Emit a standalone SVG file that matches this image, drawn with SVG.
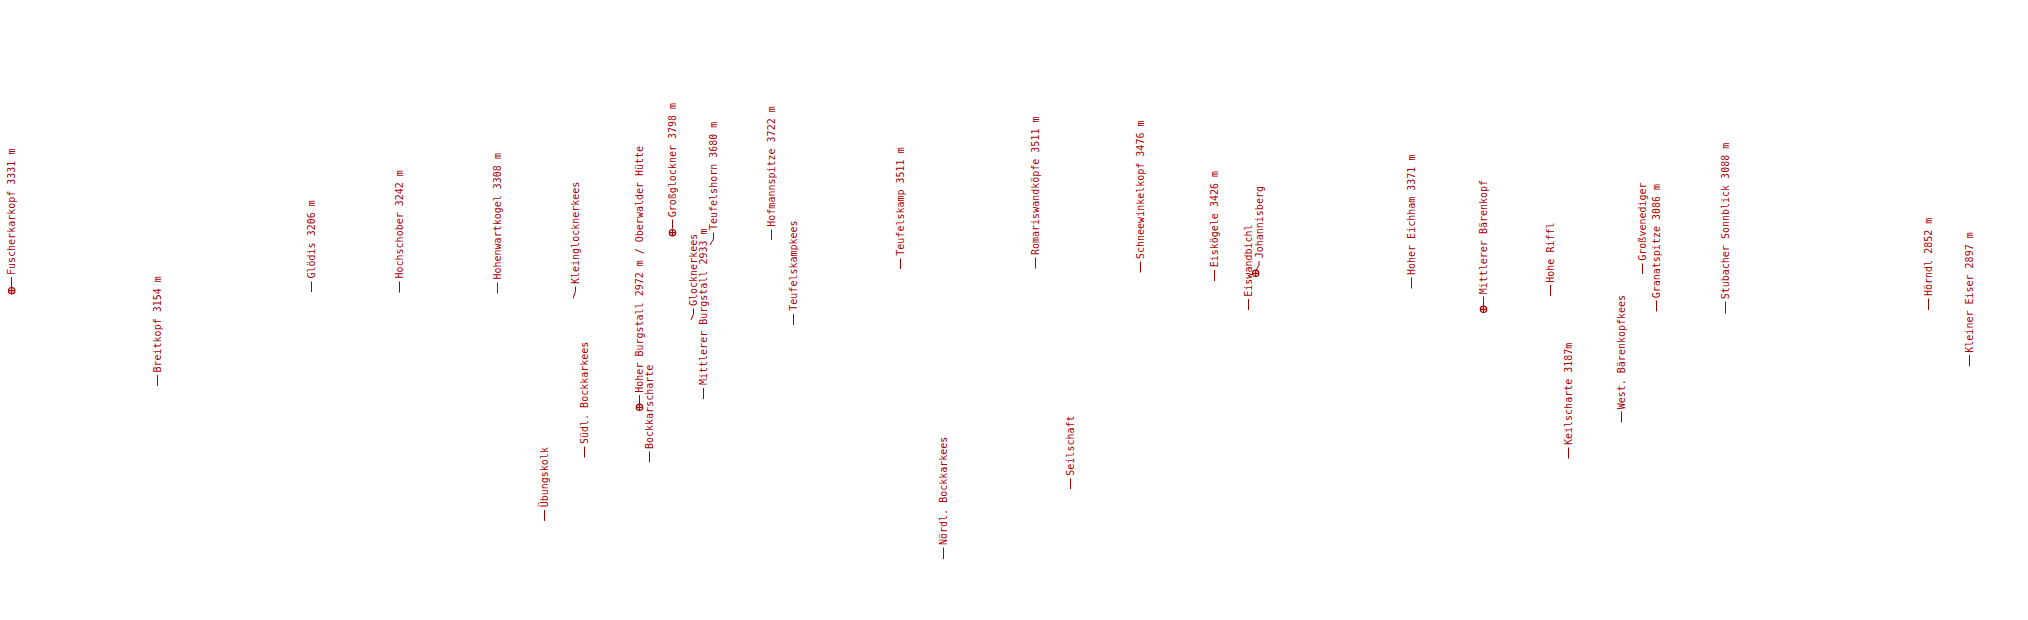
<svg xmlns="http://www.w3.org/2000/svg" xmlns:xlink="http://www.w3.org/1999/xlink" width="2028" height="620" viewBox="0 0 2028 620">
<style>
.lbl{font-family:"DejaVu Sans Mono","Liberation Mono",monospace;font-size:10px;fill:#a50000}
.ld{stroke:#a50000;stroke-width:1;fill:none}
.mk{stroke:#a50000;stroke-width:1.2;fill:none}
</style>
<defs>
<g id="marker"><circle class="mk" cx="0" cy="0" r="3.2"/><path class="mk" d="M-3.2 0H3.2M0 -3.2V3.2"/></g>
</defs>
<rect width="2028" height="620" fill="#ffffff"/>
<g id="connectors">
<line class="ld" x1="11.5" y1="287" x2="11.5" y2="277"/>
<line class="ld" x1="157.5" y1="386" x2="157.5" y2="375"/>
<line class="ld" x1="311.5" y1="292" x2="311.5" y2="281.5"/>
<line class="ld" x1="399.5" y1="292.5" x2="399.5" y2="281.5"/>
<line class="ld" x1="497.5" y1="293.5" x2="497.5" y2="282.5"/>
<polyline class="ld" points="573,298.5 575.5,291 575.5,286.5"/>
<line class="ld" x1="639.5" y1="404" x2="639.5" y2="395"/>
<line class="ld" x1="649.5" y1="462.5" x2="649.5" y2="451.5"/>
<line class="ld" x1="584.5" y1="457.5" x2="584.5" y2="446.5"/>
<line class="ld" x1="544.5" y1="521" x2="544.5" y2="510"/>
<line class="ld" x1="672.5" y1="228.5" x2="672.5" y2="219.5"/>
<polyline class="ld" points="691,320 693.5,314 693.5,308.5"/>
<line class="ld" x1="703.5" y1="399" x2="703.5" y2="388"/>
<polyline class="ld" points="710,245 713.5,239 713.5,232.5"/>
<line class="ld" x1="771.5" y1="240" x2="771.5" y2="229.5"/>
<line class="ld" x1="793.5" y1="325" x2="793.5" y2="314"/>
<line class="ld" x1="900.5" y1="269" x2="900.5" y2="258.5"/>
<line class="ld" x1="943.5" y1="559" x2="943.5" y2="547.5"/>
<line class="ld" x1="1035.5" y1="268.5" x2="1035.5" y2="257.5"/>
<line class="ld" x1="1140.5" y1="272.5" x2="1140.5" y2="261.5"/>
<line class="ld" x1="1214.5" y1="281" x2="1214.5" y2="270"/>
<line class="ld" x1="1248.5" y1="310" x2="1248.5" y2="299"/>
<polyline class="ld" points="1256,270.5 1259,265 1259,261"/>
<line class="ld" x1="1070.5" y1="489" x2="1070.5" y2="478.5"/>
<line class="ld" x1="1411.5" y1="288.5" x2="1411.5" y2="277.5"/>
<line class="ld" x1="1483.5" y1="305.5" x2="1483.5" y2="296.5"/>
<line class="ld" x1="1550.5" y1="296" x2="1550.5" y2="285"/>
<line class="ld" x1="1568.5" y1="458.5" x2="1568.5" y2="447.5"/>
<line class="ld" x1="1621.5" y1="422.5" x2="1621.5" y2="411.5"/>
<line class="ld" x1="1642.5" y1="274" x2="1642.5" y2="263.5"/>
<line class="ld" x1="1656.5" y1="311.5" x2="1656.5" y2="300.5"/>
<line class="ld" x1="1725.5" y1="313.5" x2="1725.5" y2="301.5"/>
<line class="ld" x1="1928.5" y1="310" x2="1928.5" y2="298.5"/>
<line class="ld" x1="1969.5" y1="366.5" x2="1969.5" y2="355"/>
</g>
<g id="fuscherkarkopf"><use xlink:href="#marker" x="11.7" y="290.7"/><text class="lbl" transform="translate(15.2 275) rotate(-90)">Fuscherkarkopf 3331 m</text></g>
<g id="breitkopf"><text class="lbl" transform="translate(161 372.5) rotate(-90)">Breitkopf 3154 m</text></g>
<g id="gloedis"><text class="lbl" transform="translate(315.2 278.5) rotate(-90)">Glödis 3206 m</text></g>
<g id="hochschober"><text class="lbl" transform="translate(403 278.5) rotate(-90)">Hochschober 3242 m</text></g>
<g id="hohenwartkogel"><text class="lbl" transform="translate(501 279.5) rotate(-90)">Hohenwartkogel 3308 m</text></g>
<g id="kleinglocknerkees"><text class="lbl" transform="translate(579 284) rotate(-90)">Kleinglocknerkees</text></g>
<g id="hoher-burgstall"><use xlink:href="#marker" x="639.5" y="407.3"/><text class="lbl" transform="translate(643.3 392.7) rotate(-90)">Hoher Burgstall 2972 m / Oberwalder Hütte</text></g>
<g id="bockkarscharte"><text class="lbl" transform="translate(653 449) rotate(-90)">Bockkarscharte</text></g>
<g id="suedl-bockkarkees"><text class="lbl" transform="translate(588 444) rotate(-90)">Südl. Bockkarkees</text></g>
<g id="uebungskolk"><text class="lbl" transform="translate(548 507.3) rotate(-90)">Übungskolk</text></g>
<g id="grossglockner"><use xlink:href="#marker" x="672.5" y="232.7"/><text class="lbl" transform="translate(676 217.3) rotate(-90)">Großglockner 3798 m</text></g>
<g id="glocknerkees"><text class="lbl" transform="translate(697 306) rotate(-90)">Glocknerkees</text></g>
<g id="mittlerer-burgstall"><text class="lbl" transform="translate(707 385) rotate(-90)">Mittlerer Burgstall 2933 m</text></g>
<g id="teufelshorn"><text class="lbl" transform="translate(717 230) rotate(-90)">Teufelshorn 3680 m</text></g>
<g id="hofmannspitze"><text class="lbl" transform="translate(775.2 226.7) rotate(-90)">Hofmannspitze 3722 m</text></g>
<g id="teufelskampkees"><text class="lbl" transform="translate(797 310.7) rotate(-90)">Teufelskampkees</text></g>
<g id="teufelskamp"><text class="lbl" transform="translate(904.2 255.7) rotate(-90)">Teufelskamp 3511 m</text></g>
<g id="noerdl-bockkarkees"><text class="lbl" transform="translate(947 545) rotate(-90)">Nördl. Bockkarkees</text></g>
<g id="romariswandkoepfe"><text class="lbl" transform="translate(1039.2 255) rotate(-90)">Romariswandköpfe 3511 m</text></g>
<g id="schneewinkelkopf"><text class="lbl" transform="translate(1144.2 259) rotate(-90)">Schneewinkelkopf 3476 m</text></g>
<g id="eiskoegele"><text class="lbl" transform="translate(1218 267.3) rotate(-90)">Eiskögele 3426 m</text></g>
<g id="eiswandbichl"><text class="lbl" transform="translate(1252 296.7) rotate(-90)">Eiswandbichl</text></g>
<g id="johannisberg"><use xlink:href="#marker" x="1255.7" y="273.3"/><text class="lbl" transform="translate(1262.7 258.3) rotate(-90)">Johannisberg</text></g>
<g id="seilschaft"><text class="lbl" transform="translate(1073.7 475.7) rotate(-90)">Seilschaft</text></g>
<g id="hoher-eichham"><text class="lbl" transform="translate(1415.2 275) rotate(-90)">Hoher Eichham 3371 m</text></g>
<g id="mittlerer-baerenkopf"><use xlink:href="#marker" x="1483.5" y="309.3"/><text class="lbl" transform="translate(1487 294.3) rotate(-90)">Mittlerer Bärenkopf</text></g>
<g id="hohe-riffl"><text class="lbl" transform="translate(1553.7 282.7) rotate(-90)">Hohe Riffl</text></g>
<g id="keilscharte"><text class="lbl" transform="translate(1572 445) rotate(-90)">Keilscharte 3187m</text></g>
<g id="west-baerenkopfkees"><text class="lbl" transform="translate(1624.7 409.3) rotate(-90)">West. Bärenkopfkees</text></g>
<g id="grossvenediger"><text class="lbl" transform="translate(1646.2 260.7) rotate(-90)">Großvenediger</text></g>
<g id="granatspitze"><text class="lbl" transform="translate(1660.2 298.3) rotate(-90)">Granatspitze 3086 m</text></g>
<g id="stubacher-sonnblick"><text class="lbl" transform="translate(1728.7 299.3) rotate(-90)">Stubacher Sonnblick 3088 m</text></g>
<g id="hoerndl"><text class="lbl" transform="translate(1932 296) rotate(-90)">Hörndl 2852 m</text></g>
<g id="kleiner-eiser"><text class="lbl" transform="translate(1973 352.7) rotate(-90)">Kleiner Eiser 2897 m</text></g>
</svg>
